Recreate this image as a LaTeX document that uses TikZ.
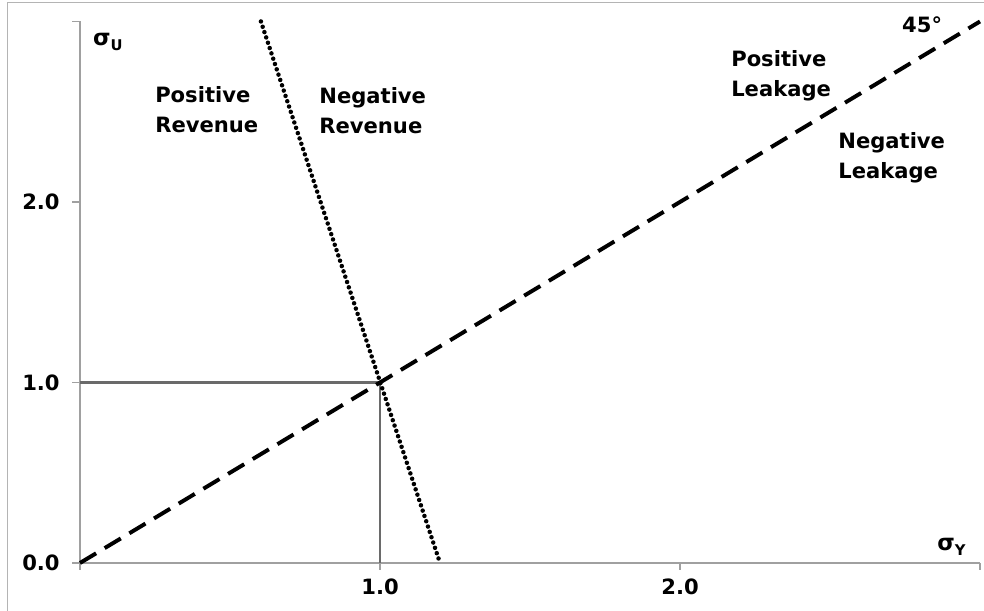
\documentclass[tikz,border=0pt]{standalone}
\usepackage{fontspec}
\setmainfont{DejaVu Sans}
\usepackage{xcolor}
\usetikzlibrary{positioning, calc}

\definecolor{axisgray}{HTML}{A0A0A0}
\definecolor{guidegray}{HTML}{6A6A6A}
\definecolor{framegray}{HTML}{B4B4B4}

\newcommand{\sigmasub}[1]{{\fontsize{16}{16}\selectfont σ}\raisebox{-0.45ex}{\fontsize{10.5}{10.5}\selectfont #1}}

\begin{document}
\begin{tikzpicture}[
    x=7.5cm, y=4.5125cm,
    axis/.style={draw=axisgray, line width=0.8pt},
    guide/.style={draw=guidegray, line width=1.8pt},
    diag/.style={black, line width=2.8pt, dash pattern=on 0.47cm off 0.25cm},
    bound/.style={black, line width=3.2pt, line cap=round, dash pattern=on 0pt off 0.14cm},
    lbl/.style={font=\fontsize{15}{21.3}\selectfont\bfseries, align=left, inner sep=0pt},
    tick/.style={font=\fontsize{15}{17}\selectfont\bfseries, inner sep=0pt}
    ]
\useasboundingbox (-0.2667,-0.2659) rectangle (3.0133,3.119);
% frame
\draw[framegray, line width=0.6pt] (-0.2433,-0.3) -- (-0.2433,3.108) -- (3.1,3.108);

% axes
\coordinate (O) at (0,0);
\coordinate (X) at (3,0);
\coordinate (Y) at (0,3);
\draw[axis] (Y) -- (O) -- (X);
\foreach \t in {0,1,2,3} {
  \draw[axis] (\t,0) -- (\t,-0.039);
  \draw[axis] (0,\t) -- (-0.0267,\t);
}

% guide lines to (1,1)
\coordinate (P) at (1,1);
\draw[guide] (0,1) -- (P) -- (1,0);

% 45 degree line and revenue boundary
\coordinate (D) at (3,3);
\draw[diag] (O) -- (D);
\coordinate (R1) at (0.603,3);
\coordinate (R2) at (1.2,0);
\draw[bound] (R1) -- (R2);

% tick labels
\node[tick, anchor=east] (y0) at (-0.067,0) {0.0};
\node[tick, anchor=east] (y1) at (-0.067,1) {1.0};
\node[tick, anchor=east] (y2) at (-0.067,2) {2.0};
\node[tick] (x1) at (1,-0.133) {1.0};
\node[tick] (x2) at (2,-0.133) {2.0};

% axis names
\node[lbl, anchor=west] (su) at (0.043,2.886) {\sigmasub{U}};
\node[lbl, anchor=west] (sy) at (2.857,0.089) {\sigmasub{Y}};
\node[lbl] (deg) at (2.807,2.981) {45°};

% regions
\node[lbl, anchor=west] (posrev) at (0.25,2.51) {Positive\\Revenue};
\node[lbl, anchor=west] (negrev) at (0.797,2.504) {Negative\\Revenue};
\node[lbl, anchor=west] (posleak) at (2.17,2.698) {Positive\\Leakage};
\node[lbl, anchor=west] (negleak) at (2.527,2.244) {Negative\\Leakage};
\end{tikzpicture}
\end{document}
